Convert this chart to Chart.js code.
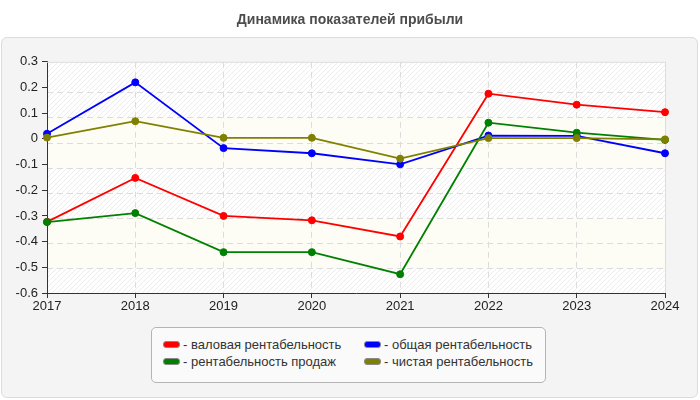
<!DOCTYPE html>
<html>
<head>
<meta charset="utf-8">
<script src="https://cdn.jsdelivr.net/npm/chart.js@4.4.0/dist/chart.umd.min.js"></script>
<style>
  body { margin: 0; background: #fff; }
  #wrap { position: relative; width: 700px; height: 400px; font-family: "Liberation Sans", Arial, sans-serif; }
  #panel { position: absolute; left: 1px; top: 37px; width: 695px; height: 359px; background: #f4f4f4; border: 1px solid #dcdcdc; border-radius: 6px; }
  #chart { position: absolute; left: 0; top: 0; }
  #legend { position: absolute; left: 151px; top: 327px; width: 393px; height: 54px; background: #fafafa; border: 1px solid #b4b4b4; border-radius: 5px; }
  #legend ul { list-style: none; margin: 0; padding: 8px 0 0 11px; display: grid; grid-template-columns: 201px 180px; grid-auto-rows: 17px; }
  #legend li { font-size: 13px; color: #333; line-height: 17px; white-space: nowrap; }
  #legend .sw { display: inline-block; width: 15px; height: 5px; border: 1px solid #8a8a8a; border-radius: 3px; margin-right: 3px; vertical-align: 1px; }
</style>
</head>
<body>
<div id="wrap">
  <div id="panel"></div>
  <canvas id="chart" width="700" height="400"></canvas>
  <div id="legend"></div>
</div>
<script>
const years = ["2017", "2018", "2019", "2020", "2021", "2022", "2023", "2024"];

const grossMargin = [-0.323, -0.152, -0.300, -0.317, -0.380, 0.176, 0.133, 0.104];
const totalMargin = [0.020, 0.220, -0.036, -0.056, -0.099, 0.013, 0.012, -0.056];
const salesMargin = [-0.324, -0.289, -0.441, -0.441, -0.527, 0.063, 0.024, -0.004];
const netMargin = [0.005, 0.069, 0.004, 0.004, -0.077, 0.003, 0.003, -0.002];

const seriesNames = [
  "валовая рентабельность",
  "общая рентабельность",
  "рентабельность продаж",
  "чистая рентабельность",
];

// background grid rows sit a little below the value ticks in the original
const bgRows = [24.4, 49.4, 74.4, 99.4, 124.4, 149.4, 174.4, 199.4];
const hatchBands = [[0, 24.4], [74.4, 124.4], [174.4, 230.4]];
const plainBands = [[24.4, 74.4], [124.4, 174.4]];

function makeHatch() {
  const c = document.createElement("canvas");
  c.width = 5;
  c.height = 5;
  const g = c.getContext("2d");
  g.fillStyle = "#ffffff";
  g.fillRect(0, 0, 5, 5);
  g.strokeStyle = "#ededed";
  g.lineWidth = 1;
  g.beginPath();
  g.moveTo(-1, 6);
  g.lineTo(6, -1);
  g.moveTo(-1, 1);
  g.lineTo(1, -1);
  g.moveTo(4, 6);
  g.lineTo(6, 4);
  g.stroke();
  return c;
}

const plotBackground = {
  id: "plotBackground",
  beforeDraw(chart) {
    const { ctx, chartArea } = chart;
    const yg = chart.scales.yg;
    const w = chartArea.right - chartArea.left;
    ctx.save();
    ctx.fillStyle = ctx.createPattern(makeHatch(), "repeat");
    hatchBands.forEach(([a, b]) => {
      const top = yg.getPixelForValue(b);
      ctx.fillRect(chartArea.left, top, w, yg.getPixelForValue(a) - top);
    });
    ctx.fillStyle = "#fdfdf5";
    plainBands.forEach(([a, b]) => {
      const top = yg.getPixelForValue(b);
      ctx.fillRect(chartArea.left, top, w, yg.getPixelForValue(a) - top);
    });
    ctx.restore();
  },
  beforeDatasetsDraw(chart) {
    const { ctx, chartArea } = chart;
    ctx.save();
    ctx.strokeStyle = "#dcdcdc";
    ctx.lineWidth = 1;
    ctx.beginPath();
    ctx.moveTo(chartArea.left, chartArea.top + 0.5);
    ctx.lineTo(chartArea.right + 0.5, chartArea.top + 0.5);
    ctx.lineTo(chartArea.right + 0.5, chartArea.bottom);
    ctx.stroke();
    ctx.restore();
  },
};

const htmlLegend = {
  id: "htmlLegend",
  afterUpdate(chart) {
    const box = document.getElementById("legend");
    box.innerHTML = "";
    const ul = document.createElement("ul");
    chart.data.datasets.forEach((ds) => {
      const li = document.createElement("li");
      const sw = document.createElement("span");
      sw.className = "sw";
      sw.style.background = ds.borderColor;
      li.appendChild(sw);
      li.appendChild(document.createTextNode("- " + ds.label));
      ul.appendChild(li);
    });
    box.appendChild(ul);
  },
};

function series(label, data, color, order) {
  return {
    label,
    data,
    borderColor: color,
    backgroundColor: color,
    borderWidth: 1.8,
    pointRadius: 3.5,
    pointBorderWidth: 1,
    pointBackgroundColor: color,
    pointBorderColor: color,
    tension: 0,
    clip: false,
    order,
  };
}

new Chart(document.getElementById("chart"), {
  type: "line",
  data: {
    labels: years,
    datasets: [
      series(seriesNames[0], grossMargin, "#ff0000", 3),
      series(seriesNames[1], totalMargin, "#0000ff", 2),
      series(seriesNames[2], salesMargin, "#008000", 1),
      series(seriesNames[3], netMargin, "#808000", 0),
    ],
  },
  plugins: [plotBackground, htmlLegend],
  options: {
    responsive: false,
    animation: false,
    layout: { padding: { left: 0, right: 0, top: 0, bottom: 82 } },
    plugins: {
      legend: { display: false },
      tooltip: { enabled: false },
      title: {
        display: true,
        text: "Динамика показателей прибыли",
        color: "#4d4d4d",
        font: { family: "Liberation Sans", size: 14, weight: "bold" },
        padding: { top: 12, bottom: 33 },
      },
    },
    scales: {
      x: {
        afterFit: (s) => { s.height = 25; },
        grid: { color: "#dcdcdc", tickColor: "#333", tickLength: 5 },
        border: { color: "#333", dash: [6, 4] },
        ticks: {
          color: "#222",
          padding: 1,
          maxRotation: 0,
          font: { family: "Liberation Sans", size: 13 },
        },
      },
      y: {
        min: -0.6,
        max: 0.3,
        afterFit: (s) => { s.width = 47; },
        grid: { drawOnChartArea: false, tickColor: "#333", tickLength: 5 },
        border: { color: "#333" },
        ticks: {
          stepSize: 0.1,
          color: "#222",
          padding: 4,
          font: { family: "Liberation Sans", size: 13 },
        },
      },
      yg: {
        type: "linear",
        position: "right",
        min: 0,
        max: 230.4,
        afterBuildTicks: (s) => { s.ticks = bgRows.map((v) => ({ value: v })); },
        afterFit: (s) => { s.width = 35; },
        grid: { color: "#dcdcdc", drawTicks: false },
        border: { display: false, dash: [6, 4] },
        ticks: { display: false },
      },
    },
  },
});
</script>
</body>
</html>
